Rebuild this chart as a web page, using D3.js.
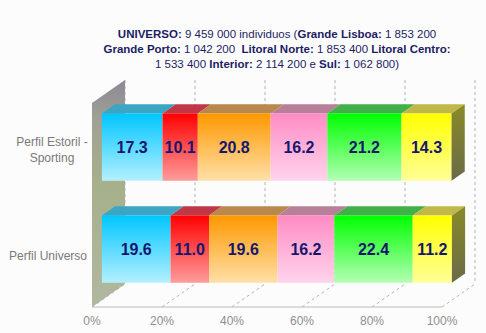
<!DOCTYPE html>
<html><head><meta charset="utf-8">
<script src="https://cdn.jsdelivr.net/npm/d3@7"></script>
<style>body{margin:0;background:#fcfcfc}svg{display:block}</style>
</head><body>
<svg id="c" width="486" height="333"></svg>
<script>
const categories = ["Perfil Estoril - Sporting", "Perfil Universo"];
const seriesNames = ["Grande Lisboa", "Grande Porto", "Litoral Norte", "Litoral Centro", "Interior", "Sul"];
const estorilValues = [17.3, 10.1, 20.8, 16.2, 21.2, 14.3];
const universoValues = [19.6, 11.0, 19.6, 16.2, 22.4, 11.2];
const tickLabels = ["0%", "20%", "40%", "60%", "80%", "100%"];
const titleLines = [
  [["UNIVERSO:", true], [" 9 459 000 individuos (", false], ["Grande Lisboa:", true], [" 1 853 200", false]],
  [["Grande Porto:", true], [" 1 042 200  ", false], ["Litoral Norte:", true], [" 1 853 400 ", false], ["Litoral Centro:", true]],
  [["1 533 400 ", false], ["Interior:", true], [" 2 114 200 e ", false], ["Sul:", true], [" 1 062 800)", false]]
];

const colors = [
  {top:"#00c6ff", bot:"#b4f0ff", cap:"#3aa6c4"},
  {top:"#ff0000", bot:"#ff9c9c", cap:"#c03848"},
  {top:"#ff9800", bot:"#ffe0a8", cap:"#b8884c"},
  {top:"#ff8cc4", bot:"#ffd4ec", cap:"#b88098"},
  {top:"#00ff00", bot:"#b4ffb4", cap:"#40b048"},
  {top:"#ffff00", bot:"#ffff98", cap:"#c0b848"}
];
const data = [estorilValues, universoValues];

const svg = d3.select("#c");
const defs = svg.append("defs");
colors.forEach((c,i)=>{
  const g = defs.append("linearGradient").attr("id","g"+i).attr("x1",0).attr("y1",0).attr("x2",0).attr("y2",1);
  g.append("stop").attr("offset","0%").attr("stop-color",c.top);
  g.append("stop").attr("offset","100%").attr("stop-color",c.bot);
});
const sg = defs.append("linearGradient").attr("id","side").attr("x1",0).attr("y1",0).attr("x2",0).attr("y2",1);
sg.append("stop").attr("offset","0%").attr("stop-color","#8a8a28");
sg.append("stop").attr("offset","100%").attr("stop-color","#6a6a48");
const wg = defs.append("linearGradient").attr("id","wall").attr("x1",0).attr("y1",0).attr("x2",0).attr("y2",1);
wg.append("stop").attr("offset","0%").attr("stop-color","#8c8896");
wg.append("stop").attr("offset","18%").attr("stop-color","#a0a294");
wg.append("stop").attr("offset","45%").attr("stop-color","#a6b08a");
wg.append("stop").attr("offset","100%").attr("stop-color","#b0b8a0");

// geometry
const x = d3.scaleLinear().domain([0,100]).range([92,442]);
const y = d3.scaleBand().domain(categories).range([103,307]).paddingInner(0.34).paddingOuter(0.17);
const DX = 33, DY = -23;
const P = (px,py,d)=>[px+DX*d, py+DY*d];
const pts = a=>a.map(p=>p.join(",")).join(" ");

// back wall grid
const ticks = d3.range(0,101,20);
ticks.forEach(t=>{
  const [bx,by] = P(x(t),307,1);
  svg.append("line").attr("x1",bx).attr("y1",80).attr("x2",bx).attr("y2",by)
    .attr("stroke","#b4b4b4").attr("stroke-dasharray","3,3").attr("stroke-width",1);
  svg.append("line").attr("x1",x(t)).attr("y1",307).attr("x2",bx).attr("y2",by)
    .attr("stroke","#b4b4b4").attr("stroke-dasharray","3,3").attr("stroke-width",1);
});
// left wall
svg.append("polygon").attr("points",pts([[92,307],[92,103],P(92,103,1),P(92,307,1)]))
  .attr("fill","url(#wall)");
// front axis
svg.append("line").attr("x1",x(0)).attr("x2",x(100)).attr("y1",307).attr("y2",307).attr("stroke","#bcbcbc");

// bars
const d0 = 0.3, d1 = 0.7;
categories.forEach((cat,ci)=>{
  const vals = data[ci];
  const stack = d3.cumsum(vals);
  const y0 = y(cat), y1 = y(cat)+y.bandwidth();
  const g = svg.append("g");
  vals.forEach((v,i)=>{
    const a = stack[i]-v, b = stack[i];
    const [fx0,fy0] = P(x(a),y0,d0), [fx1] = P(x(b),y0,d0);
    const fy1 = P(0,y1,d0)[1];
    g.append("polygon").attr("points",pts([P(x(a),y0,d0),P(x(b),y0,d0),P(x(b),y0,d1),P(x(a),y0,d1)]))
      .attr("fill",colors[i].cap);
    g.append("rect").attr("x",fx0).attr("y",fy0).attr("width",fx1-fx0).attr("height",fy1-fy0)
      .attr("fill","url(#g"+i+")");
    g.append("text").attr("x",(fx0+fx1)/2).attr("y",(fy0+fy1)/2+6).attr("text-anchor","middle")
      .attr("font-family","Arial, Liberation Sans, sans-serif").attr("font-weight","bold").attr("font-size",16)
      .attr("fill","#16166e").text(v.toFixed(1));
    if(i===vals.length-1){
      g.append("polygon").attr("points",pts([P(x(b),y0,d0),P(x(b),y0,d1),P(x(b),y1,d1),P(x(b),y1,d0)]))
        .attr("fill","url(#side)");
    }
  });
});

// tick labels
ticks.forEach((t,i)=>{
  svg.append("text").attr("x",x(t)).attr("y",325).attr("text-anchor","middle")
    .attr("font-family","Arial, Liberation Sans, sans-serif").attr("font-size",12).attr("fill","#8e8e8e").text(tickLabels[i]);
});
// category labels
const catLines = [["Perfil Estoril -","Sporting"],["Perfil Universo"]];
categories.forEach((cat,ci)=>{
  const cy = y(cat)+y.bandwidth()/2;
  const lines = catLines[ci];
  const t = svg.append("text").attr("text-anchor","middle")
    .attr("font-family","Arial, Liberation Sans, sans-serif").attr("font-size",12).attr("fill","#7a7a7a");
  lines.forEach((l,li)=>{
    t.append("tspan").attr("x",lines.length>1?52:48).attr("y",cy+4+(li-(lines.length-1)/2)*16 - (lines.length>1?4:0)).text(l);
  });
});
// title
const tys=[38,53,68];
titleLines.forEach((line,li)=>{
  const t = svg.append("text").attr("x",277).attr("y",tys[li]).attr("text-anchor","middle")
    .attr("font-family","Arial, Liberation Sans, sans-serif").attr("font-size",11.5).attr("fill","#1c1c64")
    .attr("xml:space","preserve").style("white-space","pre");
  line.forEach(([s,b])=>t.append("tspan").attr("font-weight",b?"bold":"normal").text(s));
});
</script>
</body></html>
